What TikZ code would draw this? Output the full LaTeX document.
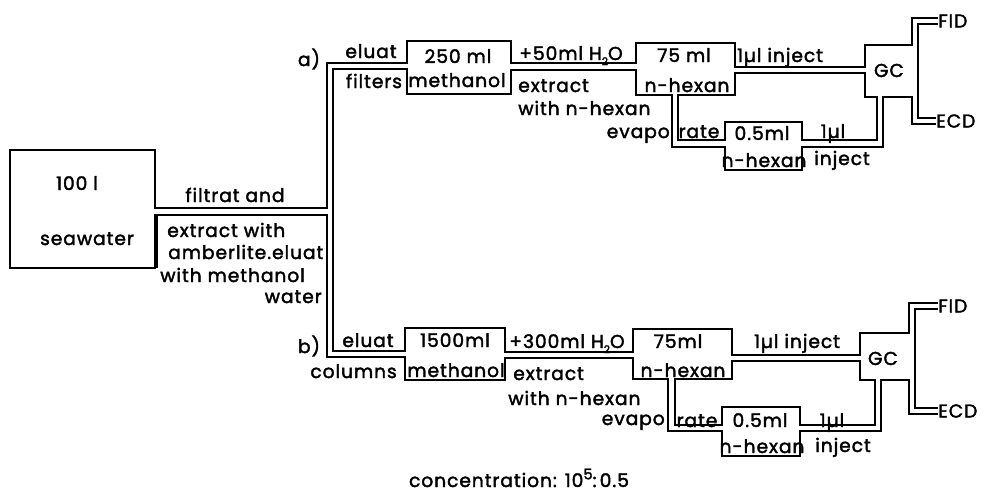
\documentclass[tikz,border=0pt]{standalone}
\usepackage{fontspec}
\setmainfont{Poppins}[LetterSpace=5, FakeBold=2]
\usetikzlibrary{fit}
\newcommand{\lblfont}{\fontsize{14}{16}\selectfont}
\newcommand{\subtwo}{\raisebox{-0.5ex}{\fontsize{8}{8}\selectfont 2}}
\newcommand{\supfive}{\raisebox{0.75ex}{\fontsize{11}{11}\selectfont 5}}
\newcommand{\nhexan}{n-hexan}
\tikzset{
  every node/.style={font=\lblfont, inner sep=0pt},
  box/.style={draw, line width=1.6pt, inner sep=0pt, outer sep=-0.8pt},
  pipe/.style={double, double distance=3.1pt, line width=1.6pt},
  wall/.style={line width=1.6pt},
  txt/.style={anchor=base},
  txtl/.style={anchor=base west},
  txtr/.style={anchor=base east},
}

\begin{document}
\begin{tikzpicture}[x=0.75pt, y=-0.75pt]
\useasboundingbox (0,0) rectangle (988,496);
% vessels
\node[box, fit={(10,150) (155,268)}] (sea) {};
\node[box, fit={(407,41) (511,94)}] (ma) {};
\node[box, fit={(636,43) (735,95)}] (ha) {};
\node[box, fit={(725,122) (802,170)}] (ea) {};
\node[box, fit={(865,45) (918,97)}] (gca) {};
\node[box, fit={(405,328) (505,380)}] (mb) {};
\node[box, fit={(633,329) (732,379)}] (hb) {};
\node[box, fit={(722,407) (800,456)}] (eb) {};
\node[box, fit={(860,333) (915,380)}] (gcb) {};
% detectors
\node[anchor=west] (fida) at (938,21) {FID};
\node[anchor=west] (ecda) at (936,121) {ECD};
\node[anchor=west] (fidb) at (938,306) {FID};
\node[anchor=west] (ecdb) at (938,411) {ECD};
% tubes
\draw[pipe]
  (sea.east |- 0,211.5) -- (330,211.5)
  (ma.west |- 0,66) -| (330,354) -- (mb.west |- 0,354)
  (ma.east |- 0,66.5) -- (ha.west |- 0,66.5)
  (ha.east |- 0,70) -- (gca.west |- 0,70)
  (ha.south -| 675,0) |- (ea.west |- 0,143.5)
  (ea.east |- 0,143.5) -| (gca.south -| 880,0)
  (gca.north -| 915,0) |- (fida.west)
  (gca.south -| 915,0) |- (ecda.west)
  (mb.east |- 0,355) -- (hb.west |- 0,355)
  (hb.east |- 0,358) -- (gcb.west |- 0,358)
  (hb.south -| 671.5,0) |- (eb.west |- 0,428)
  (eb.east |- 0,428) -| (gcb.south -| 878,0)
  (gcb.north -| 912,0) |- (fidb.west)
  (gcb.south -| 912,0) |- (ecdb.west);
\draw[wall] (157,268) -- (157,215);
% seawater
\node[txt] at (77,190) {100 l};
\node[txt] at (87,245) {seawater};
\node[txt] at (235,202) {filtrat and};
\node[txtl] at (167,237) {extract with};
\node[txtl] at (168,259) {amberlite.eluat};
\node[txtl] at (160,282) {with methanol};
\node[txtr] at (322,303) {water};
% branch a
\node[txt] at (309,66) {a)};
\node[txt] at (371,58) {eluat};
\node[txt] at (374,88) {filters};
\node[txt] at (458,63) {250 ml};
\node[txt] at (457,87) {methanol};
\node[txt] at (571,60) {+50ml H\subtwo O};
\node[txtl] at (518,92) {extract};
\node[txtl] at (518,115) {with \nhexan};
\node[txt] at (684,62) {75 ml};
\node[txt] at (687,92) {\nhexan};
\node[txt] at (780,62) {1µl inject};
\node[txt] at (889,77) {GC};
\node[txtr] at (670,138) {evapo};
\node[txt] at (699,138) {rate};
\node[txt] at (762,140) {0.5ml};
\node[txt] at (833,138) {1µl};
\node[txt] at (764,167) {\nhexan};
\node[txt] at (842,165) {inject};
% branch b
\node[txt] at (309,353) {b)};
\node[txt] at (368,347) {eluat};
\node[txtr] at (397,378) {columns};
\node[txt] at (455,347) {1500ml};
\node[txt] at (456,377) {methanol};
\node[txt] at (567,348) {+300ml H\subtwo O};
\node[txtl] at (513,380) {extract};
\node[txtl] at (508,405) {with \nhexan};
\node[txt] at (678,348) {75ml};
\node[txt] at (683,377) {\nhexan};
\node[txt] at (797,348) {1µl inject};
\node[txt] at (883,365) {GC};
\node[txtr] at (665,425) {evapo};
\node[txt] at (697,427) {rate};
\node[txt] at (760,427) {0.5ml};
\node[txt] at (832,427) {1µl};
\node[txt] at (762,453) {\nhexan};
\node[txt] at (843,452) {inject};
\node[txt] at (519,487) {concentration: 10\supfive:\,0.5};
\end{tikzpicture}
\end{document}
